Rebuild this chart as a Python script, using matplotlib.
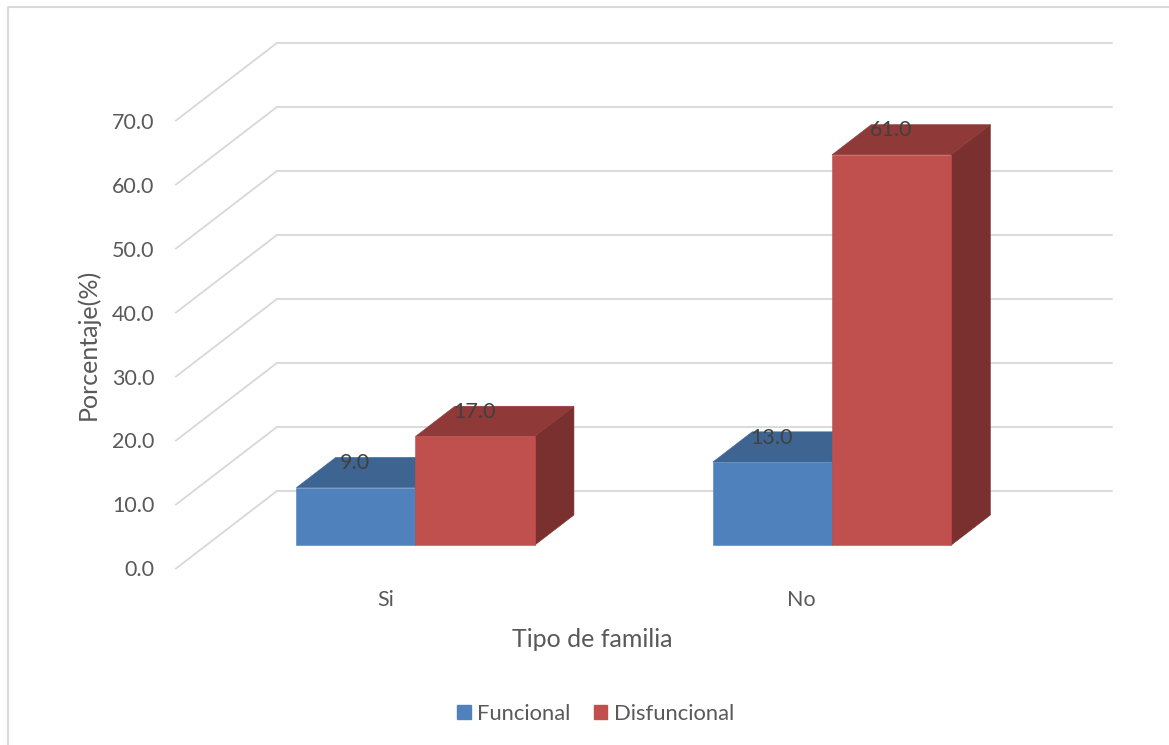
import matplotlib
matplotlib.use('Agg')
import matplotlib.pyplot as plt
from matplotlib.lines import Line2D
from matplotlib.patches import Patch

plt.rcParams['font.family'] = ['Lato', 'DejaVu Sans']

categories = ['Si', 'No']
funcional = [9.0, 13.0]
disfuncional = [17.0, 61.0]
y_ticks = [0, 10, 20, 30, 40, 50, 60, 70]
series_names = ['Funcional', 'Disfuncional']

W, H = 1169, 745
TEXT = '#595959'
GRID = '#d9d9d9'

# colours per series: front, top, side
BLUE = ('#4f81bd', '#3e6491', '#33547a')
RED = ('#c0504d', '#8f3a38', '#7a302e')

# oblique projection of the depth axis, in data units per unit of depth
DEPTH_X = 101 / 417
DEPTH_Y = 77.5 / 6.4

BAR_W = 0.286
BAR_D0 = 0.30
BAR_D1 = 0.69
X_MIN, X_MAX = -0.5024, 1.5026


def proj(x, y, d):
    return x + d * DEPTH_X, y + d * DEPTH_Y


def box(ax, x0, x1, v, cols, z):
    # front, top and right side of one bar standing on the floor
    d0, d1 = BAR_D0, BAR_D1
    front = [proj(x0, 0, d0), proj(x1, 0, d0), proj(x1, v, d0), proj(x0, v, d0)]
    top = [proj(x0, v, d0), proj(x1, v, d0), proj(x1, v, d1), proj(x0, v, d1)]
    side = [proj(x1, 0, d0), proj(x1, 0, d1), proj(x1, v, d1), proj(x1, v, d0)]
    for pts, c in ((side, cols[2]), (top, cols[1]), (front, cols[0])):
        ax.fill(*zip(*pts), color=c, lw=0.4, zorder=z, clip_on=False)


fig = plt.figure(figsize=(W / 100, H / 100), dpi=100)
ax = fig.add_axes([176 / W, (H - 568.5) / H, 835 / W, 448 / H])
ax.set_xlim(X_MIN, X_MAX)
ax.set_ylim(0, 70)
ax.patch.set_alpha(0)
for s in ax.spines.values():
    s.set_visible(False)

# side wall and back wall gridlines
for v in y_ticks:
    xs, ys = zip(proj(X_MIN, v, 0), proj(X_MIN, v, 1), proj(X_MAX, v, 1))
    ax.plot(xs, ys, color=GRID, lw=1.35, zorder=1, clip_on=False, solid_joinstyle='miter')

for i in range(len(categories)):
    box(ax, i - BAR_W, i, funcional[i], BLUE, 2 + i)
    box(ax, i, i + BAR_W, disfuncional[i], RED, 2.5 + i)

    # value labels sit above the front edge of each bar
    for xc, v in ((i - BAR_W / 2, funcional[i]), (i + BAR_W / 2, disfuncional[i])):
        px, py = proj(xc, v, BAR_D0)
        ax.annotate(f'{v:.1f}', (px, py), xytext=(-0.5, 17.6), textcoords='offset points',
                    ha='center', va='center', fontsize=15.5, color='#404040', zorder=6)

ax.set_yticks(y_ticks)
ax.set_yticklabels([f'{v:.1f}' for v in y_ticks])
ax.set_xticks(range(len(categories)))
ax.set_xticklabels(categories)
ax.tick_params(axis='y', length=0, pad=15.7, labelsize=15.5, labelcolor=TEXT)
ax.tick_params(axis='x', length=0, pad=15.5, labelsize=15.5, labelcolor=TEXT)

fig.text(88 / W, 1 - 344 / H, 'Porcentaje(%)', rotation=90, ha='center', va='center',
         fontsize=18, color=TEXT)
fig.text(592 / W, 1 - 639.5 / H, 'Tipo de familia', ha='center', va='center',
         fontsize=18, color=TEXT)

handles = [Patch(color=BLUE[0], label=series_names[0]),
           Patch(color=RED[0], label=series_names[1])]
fig.legend(handles=handles, loc='center', bbox_to_anchor=(595.5 / W, 1 - 714 / H),
           ncol=2, frameon=False, fontsize=15.8, labelcolor=TEXT, handlelength=0.63,
           handleheight=0.63, handletextpad=0.3, columnspacing=1.05)

# chart frame, its right and bottom edges fall outside the canvas
fig.add_artist(Line2D([8 / W, 8 / W, 1], [0, 1 - 6.5 / H, 1 - 6.5 / H], color=GRID, lw=1.5))

fig.savefig('out.png', dpi=100, facecolor='white')
